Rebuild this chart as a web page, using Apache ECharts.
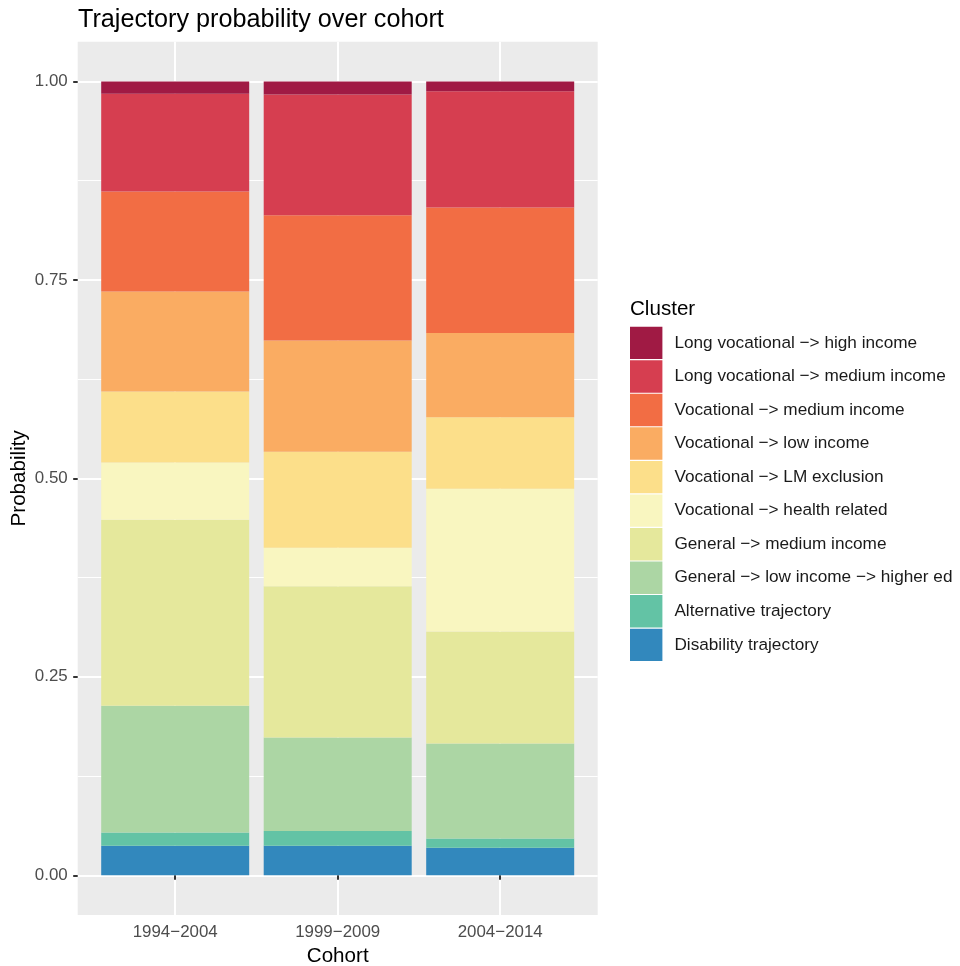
<!DOCTYPE html>
<html>
<head>
<meta charset="utf-8">
<script src="https://cdn.jsdelivr.net/npm/echarts@6/dist/echarts.min.js"></script>
<style>
html,body{margin:0;padding:0;background:#fff;}
#chart{width:960px;height:966px;}
</style>
</head>
<body>
<div id="chart"></div>
<script>
// Categories (cohorts) and their x positions on the discrete scale
const cohorts = ['1994\u22122004', '1999\u22122009', '2004\u22122014'];
const cohortPos = [1, 2, 3];

// Cluster names, bottom of stack first
const clusters = [
  'Disability trajectory',
  'Alternative trajectory',
  'General \u2212> low income \u2212> higher ed',
  'General \u2212> medium income',
  'Vocational \u2212> health related',
  'Vocational \u2212> LM exclusion',
  'Vocational \u2212> low income',
  'Vocational \u2212> medium income',
  'Long vocational \u2212> medium income',
  'Long vocational \u2212> high income'
];

// Probabilities per cluster, one value per cohort
const disability   = [0.0372, 0.0372, 0.0346];
const alternative  = [0.0167, 0.0185, 0.0117];
const genLowHigher = [0.1596, 0.1179, 0.1197];
const genMedium    = [0.2342, 0.1906, 0.1411];
const vocHealth    = [0.0722, 0.0483, 0.1797];
const vocLM        = [0.0894, 0.1209, 0.0903];
const vocLow       = [0.1260, 0.1402, 0.1061];
const vocMedium    = [0.1259, 0.1579, 0.1579];
const longVocMed   = [0.1231, 0.1519, 0.1466];
const longVocHigh  = [0.0157, 0.0166, 0.0123];

const seriesValues = [disability, alternative, genLowHigher, genMedium, vocHealth,
                      vocLM, vocLow, vocMedium, longVocMed, longVocHigh];

const colors = ['#3288BD', '#63C3A5', '#ACD6A4', '#E5E89C', '#F9F6C0',
                '#FCDF8A', '#FAAC62', '#F26D44', '#D63E50', '#A01A44'];

const yMajor = [0, 0.25, 0.5, 0.75, 1];
const yMinor = [0.125, 0.375, 0.625, 0.875];

const FONT = 'Liberation Sans, Arial, Helvetica, sans-serif';

const chart = echarts.init(document.getElementById('chart'), null, {renderer: 'canvas'});

const series = clusters.map((name, i) => ({
  name: name,
  type: 'bar',
  stack: 'total',
  barWidth: 148,
  xAxisIndex: 0,
  yAxisIndex: 0,
  encode: {x: 1, y: 0},
  itemStyle: {color: colors[i]},
  emphasis: {disabled: true},
  data: cohortPos.map((x, j) => [seriesValues[i][j], x])
}));

const option = {
  animation: false,
  backgroundColor: '#ffffff',
  textStyle: {fontFamily: FONT},
  title: [
    {
      text: 'Trajectory probability over cohort',
      left: 78,
      top: 8,
      padding: 0,
      textStyle: {fontFamily: FONT, fontSize: 25.2, fontWeight: 'normal', color: '#000000'}
    },
    {
      text: 'Cluster',
      left: 630,
      top: 299,
      padding: 0,
      textStyle: {fontFamily: FONT, fontSize: 20.6, fontWeight: 'normal', color: '#000000'}
    }
  ],
  grid: {
    left: 77.7,
    right: 362.3,
    top: 41.7,
    bottom: 51,
    show: true,
    backgroundColor: '#EBEBEB',
    borderWidth: 0,
    containLabel: false,
    outerBoundsMode: 'none'
  },
  legend: {
    orient: 'vertical',
    left: 630,
    top: 326.7,
    padding: 0,
    itemWidth: 32.4,
    itemHeight: 32.4,
    itemGap: 1.15,
    icon: 'rect',
    selectedMode: false,
    data: clusters.slice().reverse(),
    textStyle: {fontFamily: FONT, fontSize: 17.2, color: '#1A1A1A', padding: [3, 0, 0, 7]}
  },
  xAxis: [{
    type: 'value',
    min: 0.4,
    max: 3.6,
    name: 'Cohort',
    nameLocation: 'middle',
    nameGap: 31,
    nameMoveOverlap: false,
    nameTextStyle: {fontFamily: FONT, fontSize: 20.6, color: '#000000', verticalAlign: 'top'},
    axisLine: {show: false},
    axisTick: {show: true, customValues: cohortPos, length: 4.5, lineStyle: {color: '#333333', width: 2}},
    axisLabel: {
      customValues: cohortPos,
      margin: 9,
      fontFamily: FONT, fontSize: 16.9, color: '#4D4D4D',
      formatter: v => cohorts[Math.round(v) - 1]
    },
    splitLine: {show: true, lineStyle: {color: '#FFFFFF', width: 2}}
  }],
  yAxis: [{
    type: 'value',
    position: 'left',
    min: -0.05,
    max: 1.05,
    name: 'Probability',
    nameLocation: 'middle',
    nameRotate: 90,
    nameGap: 48,
    nameMoveOverlap: false,
    nameTextStyle: {fontFamily: FONT, fontSize: 20.6, color: '#000000'},
    axisLine: {show: false},
    axisTick: {show: true, customValues: yMajor, length: 4.5, lineStyle: {color: '#333333', width: 2}},
    axisLabel: {
      customValues: yMajor,
      margin: 10,
      fontFamily: FONT, fontSize: 16.9, color: '#4D4D4D',
      formatter: v => v.toFixed(2)
    },
    splitLine: {show: true, lineStyle: {color: '#FFFFFF', width: 2}}
  }, {
    type: 'value',
    position: 'left',
    min: -0.05,
    max: 1.05,
    axisLine: {show: false},
    axisTick: {show: false, customValues: yMinor},
    axisLabel: {show: false, customValues: yMinor},
    splitLine: {show: true, lineStyle: {color: '#FFFFFF', width: 1.2}}
  }],
  series: series
};

chart.setOption(option);
</script>
</body>
</html>
